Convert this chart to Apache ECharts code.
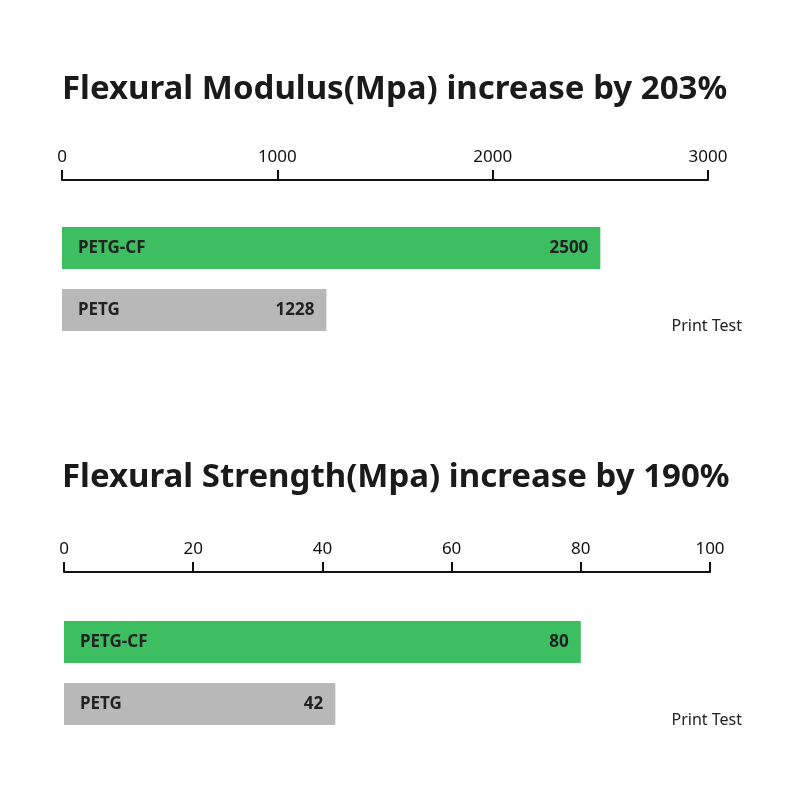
<!DOCTYPE html>
<html><head><meta charset="utf-8">
<script src="https://cdn.jsdelivr.net/npm/echarts@6/dist/echarts.min.js"></script>
<style>html,body{margin:0;background:#fff}#c{width:800px;height:800px}</style>
</head><body><div id="c"></div>
<script>
var materials = ['PETG-CF', 'PETG'];
var modulusValues = [2500, 1228];
var strengthValues = [80, 42];
var barColors = ['#3dbe60', '#b8b8b8'];
var titles = ['Flexural Modulus(Mpa) increase by 203%', 'Flexural Strength(Mpa) increase by 190%'];

var myChart = echarts.init(document.getElementById('c'));
var font = 'Noto Sans';

function xAx(idx, max, interval) {
  return {
    gridIndex: idx, type: 'value', position: 'top', min: 0, max: max, interval: interval,
    offset: idx === 0 ? 37 : 39,
    axisLine: { show: true, lineStyle: { color: '#111', width: 2 } },
    axisTick: { show: true, length: 10, lineStyle: { color: '#111', width: 2 } },
    axisLabel: { color: '#111', fontSize: 17, fontFamily: font, margin: 14, formatter: function (v) { return String(v); } },
    splitLine: { show: false }
  };
}
function yAx(idx) {
  return { gridIndex: idx, type: 'category', inverse: true, data: materials, show: false };
}
function bars(idx, vals) {
  return [{
    type: 'bar', xAxisIndex: idx, yAxisIndex: idx, barWidth: 42,
    data: vals.map(function (v, i) { return { value: v, itemStyle: { color: barColors[i] } }; }),
    label: { show: true, position: 'insideRight', distance: 12, color: '#222', fontSize: 17, fontWeight: 'bold', fontFamily: font },
    silent: true
  }, {
    type: 'bar', xAxisIndex: idx, yAxisIndex: idx, barWidth: 42, barGap: '-100%',
    data: vals, itemStyle: { color: 'rgba(0,0,0,0)' },
    label: { show: true, position: 'insideLeft', distance: 16, formatter: '{b}', color: '#222', fontSize: 17, fontWeight: 'bold', fontFamily: font },
    silent: true
  }];
}

var option = {
  animation: false,
  title: [
    { text: titles[0], left: 57, top: 68, textStyle: { fontSize: 33, fontWeight: 'bold', color: '#1a1a1a', fontFamily: font } },
    { text: titles[1], left: 57, top: 456, textStyle: { fontSize: 33, fontWeight: 'bold', color: '#1a1a1a', fontFamily: font } }
  ],
  grid: [
    { left: 62, right: 92, top: 217, height: 124 },
    { left: 64, right: 90, top: 611, height: 124 }
  ],
  xAxis: [xAx(0, 3000, 1000), xAx(1, 100, 20)],
  yAxis: [yAx(0), yAx(1)],
  series: bars(0, modulusValues).concat(bars(1, strengthValues)),
  graphic: [
    { type: 'text', right: 58, top: 318, style: { text: 'Print Test', fontSize: 16, fill: '#222', fontFamily: font } },
    { type: 'text', right: 58, top: 712, style: { text: 'Print Test', fontSize: 16, fill: '#222', fontFamily: font } }
  ]
};
myChart.setOption(option);
</script></body></html>
